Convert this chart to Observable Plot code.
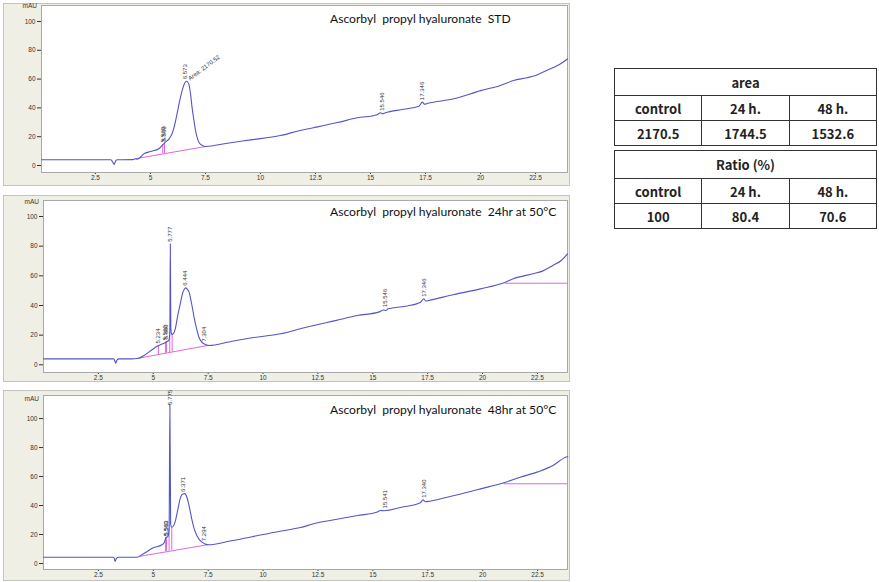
<!DOCTYPE html>
<html>
<head>
<meta charset="utf-8">
<script src="https://cdn.jsdelivr.net/npm/d3@7"></script>
<script src="https://cdn.jsdelivr.net/npm/@observablehq/plot@0.6"></script>
<style>
  html, body { margin: 0; padding: 0; background: #ffffff; }
  body { width: 879px; height: 582px; position: relative; overflow: hidden; font-family: "Liberation Sans", Arial, sans-serif; }
  .panel { position: absolute; left: 3px; width: 567px; box-sizing: border-box; border: 1px solid #c4c4bc; background: #f0efe6; }
  .panel svg { position: absolute; left: 0; top: 0; }
  .title { position: absolute; left: 330px; font-family: Lato, "Open Sans", sans-serif; font-size: 12.1px; line-height: 1; white-space: pre; color: #111; }
  .mau { position: absolute; width: 36px; text-align: right; font-family: "Liberation Sans", Arial, sans-serif; font-size: 6.5px; line-height: 1; color: #333; }
  table.res { position: absolute; left: 614px; width: 263px; border-collapse: collapse; font-family: "Noto Sans CJK KR", "Noto Sans", sans-serif; font-size: 13px; font-weight: 600; color: #222; table-layout: fixed; }
  table.res td { border: 1px solid #333; text-align: center; padding: 0; }
</style>
</head>
<body>
<script>
// ---------- data ----------
const xTicks = [2.5, 5, 7.5, 10, 12.5, 15, 17.5, 20, 22.5];
const yTicks = [0, 20, 40, 60, 80, 100];

// Panel 1 — STD
const p1Time = [0.05,3.2,3.28,3.35,3.42,3.5,4.2,4.32,4.4,4.5,4.7,5.0,5.38,5.56,5.68,5.85,5.98,6.1,6.21,6.33,6.44,6.55,6.64,6.74,6.82,6.89,6.97,7.05,7.2,7.35,7.5,8.5,9.55,10.9,11.8,12.4,13.5,14.4,15.3,15.45,15.55,15.65,16.5,17.2,17.35,17.45,17.6,18.8,20.0,20.9,21.5,22.1,22.5,23.0,23.5,23.95];
const p1Mau  = [4.0,4.0,2.5,0.8,3.2,4.0,4.1,4.7,4.4,5.2,8.1,9.7,11.6,14.5,16.2,18.5,22,28,36,45,52,57,58.5,56.7,50,40.5,32,24.3,16.2,14,13.2,15.5,17.8,20.8,24.3,26.2,29.8,33.1,35.3,36.6,35.9,36.5,39,41.2,44,42.6,43.2,46.3,52,55.6,59,60.9,62.5,66,69.4,74];
const p1LabelText = ["5.560", "5.569", "6.573", "15.546", "17.346"];
const p1LabelTime = [5.56, 5.6, 6.573, 15.546, 17.346];
const p1LabelMau  = [15, 15.5, 58.5, 36.6, 44];
const p1AreaText = ["Area: 2170.52"];
const p1AreaTime = [6.75];
const p1AreaMau = [60];
const p1BaseTime = [4.32, 7.5];
const p1BaseMau  = [4.7, 13.2];
const p1DropTime = [5.56, 5.64];
const p1DropLow  = [8.1, 8.3];
const p1DropHigh = [14.5, 15.6];

// Panel 2 — 24hr at 50°C
const p2Time = [0,3.2,3.25,3.29,3.35,3.45,4.0,4.28,4.58,4.96,5.234,5.4,5.57,5.72,5.755,5.777,5.80,5.84,5.92,6.0,6.1,6.22,6.33,6.41,6.48,6.55,6.63,6.75,6.86,6.97,7.08,7.2,7.31,7.54,8.5,9.5,10.8,11.7,12.3,13.3,14.3,15.3,15.5,15.6,15.7,16.5,17.17,17.32,17.42,17.55,18.7,19.9,21.04,21.4,22.3,22.7,23.2,23.6,23.87];
const p2Mau  = [4,4,2.5,1.1,3.3,4,4,4.2,6.3,10.3,13,14,15.2,16.8,22,81.6,25,20.5,21,24,32,40.5,47.9,51,51.9,51,49,41,32,24.5,18.6,15.5,14.2,13,15.6,18.2,20.9,24.3,26.5,29.8,33.2,35.7,37,36.6,37.8,39.5,42.2,44.5,43,43.4,47.4,51.2,55.7,58,61.4,63,67,70.5,74.8];
const p2LabelText = ["5.234", "5.560", "5.600", "5.777", "6.444", "7.304", "15.546", "17.346"];
const p2LabelTime = [5.234, 5.56, 5.6, 5.777, 6.444, 7.304, 15.546, 17.346];
const p2LabelMau  = [13, 15.2, 15.8, 81.6, 52, 14.2, 37.5, 44.5];
const p2BaseTime = [4.35, 7.5];
const p2BaseMau  = [4.5, 13.1];
const p2DropTime = [5.234, 5.56, 5.6, 5.75, 5.86];
const p2DropLow  = [6.9, 7.8, 7.9, 8.3, 8.6];
const p2DropHigh = [13, 15.2, 15.8, 22, 20.8];
const p2HoldTime = [21.04, 23.87];
const p2HoldMau  = [55, 55];

// Panel 3 — 48hr at 50°C
const p3Time = [0,3.2,3.23,3.26,3.32,3.42,4.25,4.55,5.0,5.39,5.5,5.58,5.66,5.72,5.755,5.79,5.84,5.99,6.1,6.22,6.34,6.43,6.53,6.64,6.75,6.86,6.98,7.21,7.51,8.5,9.5,10.78,11.7,12.3,13.3,14.3,15.2,15.34,15.5,16.3,17.16,17.28,17.4,17.6,18.7,19.9,20.96,21.7,22.5,23.2,23.77,23.87];
const p3Mau  = [4.3,4.3,3,1.4,3.5,4.3,4.3,6.7,10.8,12.9,14.5,18.1,18.5,24,110,27,25,28.5,36,44.6,48,48.2,45.7,39,30.8,24,19.3,14.7,12.9,15.5,18.5,22.3,24.8,27.4,30.3,33.1,35.5,36.6,36.4,38.8,41.9,43.9,42.6,43,46.9,51.5,55.7,59.5,63.2,67.6,73.3,73.8];
const p3LabelText = ["5.560", "5.563", "5.775", "6.371", "7.294", "15.541", "17.340"];
const p3LabelTime = [5.56, 5.6, 5.755, 6.371, 7.294, 15.541, 17.34];
const p3LabelMau  = [17.5, 18, 108, 48, 14, 36.6, 43.9];
const p3BaseTime = [4.4, 7.5];
const p3BaseMau  = [5, 13];
const p3DropTime = [5.56, 5.6, 5.72, 5.84];
const p3DropLow  = [8.2, 8.3, 8.6, 9];
const p3DropHigh = [17.5, 18, 24, 25];
const p3HoldTime = [20.96, 23.87];
const p3HoldMau  = [55, 55];

// Titles
const titles = ["Ascorbyl  propyl hyaluronate  STD", "Ascorbyl  propyl hyaluronate  24hr at 50°C", "Ascorbyl  propyl hyaluronate  48hr at 50°C"];

// Table
const areaHeader = "area";
const groups = ["control", "24 h.", "48 h."];
const areaValues = ["2170.5", "1744.5", "1532.6"];
const ratioHeader = "Ratio (%)";
const ratioValues = ["100", "80.4", "70.6"];

// ---------- helpers ----------
const zip = (a, b) => a.map((v, i) => ({t: v, y: b[i]}));
const blue = "#5454c8";
const magenta = "#e066e0";

function panel(cfg) {
  const trace = zip(cfg.time, cfg.mau);
  const base = zip(cfg.baseTime, cfg.baseMau);
  const drops = cfg.dropTime.map((t, i) => ({t, lo: cfg.dropLow[i], hi: cfg.dropHigh[i]}));
  const labels = cfg.labelText.map((s, i) => ({s, t: cfg.labelTime[i], y: cfg.labelMau[i]}));
  const marks = [
    Plot.frame({fill: "white", stroke: "#a8a8a8"}),
    Plot.line(base, {x: "t", y: "y", stroke: magenta, strokeWidth: 1}),
    Plot.ruleX(drops, {x: "t", y1: "lo", y2: "hi", stroke: magenta, strokeWidth: 1})
  ];
  if (cfg.holdTime) marks.push(Plot.line(zip(cfg.holdTime, cfg.holdMau), {x: "t", y: "y", stroke: magenta, strokeWidth: 1}));
  marks.push(Plot.line(trace, {x: "t", y: "y", stroke: blue, strokeWidth: 1.1, curve: "monotone-x"}));
  marks.push(Plot.text(labels, {x: "t", y: "y", text: "s", rotate: -90, textAnchor: "start", dy: -2, fontSize: 6, fill: "#333", fontFamily: "Liberation Sans, Arial, sans-serif"}));
  if (cfg.areaText) {
    const al = cfg.areaText.map((s, i) => ({s, t: cfg.areaTime[i], y: cfg.areaMau[i]}));
    marks.push(Plot.text(al, {x: "t", y: "y", text: "s", rotate: -37, textAnchor: "start", fontSize: 6, fill: "#333", fontFamily: "Liberation Sans, Arial, sans-serif"}));
  }
  return Plot.plot({
    width: 565,
    height: cfg.height,
    marginLeft: cfg.ml,
    marginRight: 2,
    marginTop: cfg.mt,
    marginBottom: cfg.mb,
    style: {background: "transparent", fontSize: "6.5px", fontFamily: "Liberation Sans, Arial, sans-serif", color: "#333", overflow: "visible"},
    x: {domain: cfg.xDomain, ticks: xTicks, tickFormat: d => String(d), tickSize: 2, tickPadding: 1, label: null},
    y: {domain: cfg.yDomain, ticks: yTicks, tickFormat: d => String(d), tickSize: 4, tickPadding: 2, label: null},
    marks
  });
}

const panels = [
  {top: 3, boxH: 183, height: 181, ml: 37, mt: 1, mb: 13, xDomain: [0.05, 23.95], yDomain: [-4.86, 111.1],
   time: p1Time, mau: p1Mau, labelText: p1LabelText, labelTime: p1LabelTime, labelMau: p1LabelMau,
   areaText: p1AreaText, areaTime: p1AreaTime, areaMau: p1AreaMau,
   baseTime: p1BaseTime, baseMau: p1BaseMau, dropTime: p1DropTime, dropLow: p1DropLow, dropHigh: p1DropHigh,
   titleTop: 13, mauTop: 3},
  {top: 195, boxH: 187, height: 185, ml: 39, mt: 4, mb: 9, xDomain: [0, 23.87], yDomain: [-5.19, 110.8],
   time: p2Time, mau: p2Mau, labelText: p2LabelText, labelTime: p2LabelTime, labelMau: p2LabelMau,
   baseTime: p2BaseTime, baseMau: p2BaseMau, dropTime: p2DropTime, dropLow: p2DropLow, dropHigh: p2DropHigh,
   holdTime: p2HoldTime, holdMau: p2HoldMau, titleTop: 206, mauTop: 199},
  {top: 390, boxH: 191, height: 189, ml: 39, mt: 4, mb: 11, xDomain: [0, 23.86], yDomain: [-4.14, 115.9],
   time: p3Time, mau: p3Mau, labelText: p3LabelText, labelTime: p3LabelTime, labelMau: p3LabelMau,
   baseTime: p3BaseTime, baseMau: p3BaseMau, dropTime: p3DropTime, dropLow: p3DropLow, dropHigh: p3DropHigh,
   holdTime: p3HoldTime, holdMau: p3HoldMau, titleTop: 404, mauTop: 396}
];

panels.forEach((cfg, i) => {
  const box = document.createElement("div");
  box.className = "panel";
  box.style.top = cfg.top + "px";
  box.style.height = cfg.boxH + "px";
  box.appendChild(panel(cfg));
  document.body.appendChild(box);
  const t = document.createElement("div");
  t.className = "title";
  t.style.top = cfg.titleTop + "px";
  t.textContent = titles[i];
  document.body.appendChild(t);
  const m = document.createElement("div");
  m.className = "mau";
  m.style.left = (i === 0 ? 1 : 3) + "px";
  m.style.top = cfg.mauTop + "px";
  m.textContent = "mAU";
  document.body.appendChild(m);
});

function makeTable(top, header, values, hHead) {
  const tbl = document.createElement("table");
  tbl.className = "res";
  tbl.style.top = top + "px";
  const r0 = tbl.insertRow();
  const c0 = r0.insertCell(); c0.colSpan = 3; c0.textContent = header; c0.style.height = hHead + "px";
  const r1 = tbl.insertRow();
  groups.forEach(g => { const c = r1.insertCell(); c.textContent = g; c.style.height = "24px"; });
  const r2 = tbl.insertRow();
  values.forEach(v => { const c = r2.insertCell(); c.textContent = v; c.style.height = "24px"; });
  document.body.appendChild(tbl);
}
makeTable(68, areaHeader, areaValues, 26);
makeTable(150, ratioHeader, ratioValues, 27);
</script>
</body>
</html>
